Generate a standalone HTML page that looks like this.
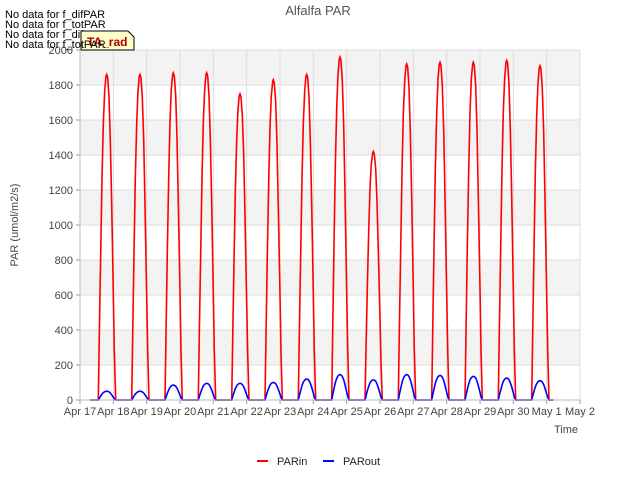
<!DOCTYPE html>
<html><head><meta charset="utf-8"><style>
body{margin:0;background:#fff;font-family:"Liberation Sans",sans-serif;}
svg text{font-family:"Liberation Sans",sans-serif;}
</style></head><body>
<svg id="chart" width="640" height="480" xmlns="http://www.w3.org/2000/svg">
<rect width="640" height="480" fill="#fff"/>
<g id="bands"></g><g id="grid"></g>
<g id="series"></g>
<g id="axes"></g>
<text x="318" y="15" text-anchor="middle" font-size="13" fill="#555">Alfalfa PAR</text>
<text transform="translate(18,225) rotate(-90)" text-anchor="middle" font-size="11" fill="#444">PAR (umol/m2/s)</text>
<text x="566" y="433" text-anchor="middle" font-size="11" fill="#444">Time</text>
<g font-size="11" fill="#000">
<text x="5" y="18">No data for f_difPAR</text>
<text x="5" y="28">No data for f_totPAR</text>
<text x="5" y="38">No data for f_difPAR</text>
</g>
<g>
<path d="M81,31 L128,31 L134,37 L134,50 L81,50 Z" fill="#ffffc8" stroke="#000" stroke-width="1"/>
<text x="87" y="46" font-size="12" font-weight="bold" fill="#b00000">TA_rad</text>
</g>
<text x="5" y="48" font-size="11" fill="#000">No data for f_totPAR</text>
<g>
<line x1="257" y1="461" x2="268" y2="461" stroke="#f00" stroke-width="2"/>
<text x="277" y="465" font-size="11" fill="#222">PARin</text>
<line x1="323" y1="461" x2="334" y2="461" stroke="#00f" stroke-width="2"/>
<text x="343" y="465" font-size="11" fill="#222">PARout</text>
</g>
</svg>
<script>
const days = [17,18,19,20,21,22,23,24,25,26,27,28,29,30];
const parInPeaks = [1860,1860,1870,1870,1750,1830,1860,1960,1420,1920,1930,1930,1940,1910];
const parOutPeaks = [50,50,85,95,95,100,120,145,115,145,140,135,125,110];
const profileHours = [0.55,0.58,0.62,0.66,0.70,0.74,0.78,0.80,0.83,0.87,0.91,0.95,0.99,1.03,1.07];
const profileShape = [0,0.2,0.45,0.68,0.85,0.95,0.995,1,0.99,0.93,0.8,0.6,0.38,0.15,0];
const yTicks = [0,200,400,600,800,1000,1200,1400,1600,1800,2000];
const xTickDays = [17,18,19,20,21,22,23,24,25,26,27,28,29,30,31,32];
const xTickLabels = ["Apr 17","Apr 18","Apr 19","Apr 20","Apr 21","Apr 22","Apr 23","Apr 24","Apr 25","Apr 26","Apr 27","Apr 28","Apr 29","Apr 30","May 1","May 2"];
const NS="http://www.w3.org/2000/svg";
const X0=80,X1=580,Y0=400,Y1=50;
const xs=d=>X0+(d-17)/(32-17)*(X1-X0);
const ys=v=>Y0-v/2000*(Y0-Y1);
function mk(t,a,p){const e=document.createElementNS(NS,t);for(const k in a)e.setAttribute(k,a[k]);p.appendChild(e);return e;}
const bands=document.getElementById('bands'),grid=document.getElementById('grid'),axes=document.getElementById('axes'),series=document.getElementById('series');
for(let i=0;i<yTicks.length-1;i++){if(i%2===1){const b=mk('rect',{x:X0,y:ys(yTicks[i+1]),width:X1-X0,height:ys(yTicks[i])-ys(yTicks[i+1]),fill:'#f3f3f3'},bands);

}}
yTicks.forEach(v=>{const l=mk('line',{x1:X0,x2:X1,y1:ys(v),y2:ys(v),stroke:'#dcdcdc','stroke-width':1},grid);


const tk=mk('line',{x1:X0-4,x2:X0,y1:ys(v),y2:ys(v),stroke:'#999'},axes);


const t=mk('text',{x:X0-7,y:ys(v)+4,'text-anchor':'end','font-size':11,fill:'#444'},axes);t.textContent=v;

});
xTickDays.forEach((d,i)=>{const l=mk('line',{x1:xs(d),x2:xs(d),y1:Y1,y2:Y0,stroke:'#dcdcdc'},grid);


const tk=mk('line',{x1:xs(d),x2:xs(d),y1:Y0,y2:Y0+4,stroke:'#999'},axes);


const t=mk('text',{x:xs(d),y:Y0+15,'text-anchor':'middle','font-size':11,fill:'#444'},axes);t.textContent=xTickLabels[i];

});
const ax=mk('path',{d:`M${X0},${Y1} L${X0},${Y0} L${X1},${Y0}`,fill:'none',stroke:'#bbb'},axes);


function build(peaks){let pts=[[xs(17.3),ys(0)]];
days.forEach((d,i)=>{profileHours.forEach((h,j)=>pts.push([xs(d+h),ys(peaks[i]*profileShape[j])]));});
pts.push([xs(31.2),ys(0)]);return 'M'+pts.map(p=>p[0].toFixed(1)+','+p[1].toFixed(1)).join(' L');}
const pin=mk('path',{d:build(parInPeaks),fill:'none',stroke:'#f00','stroke-width':1.6},series);


const pout=mk('path',{d:build(parOutPeaks),fill:'none',stroke:'#00f','stroke-width':1.6},series);


</script>
</body></html>
